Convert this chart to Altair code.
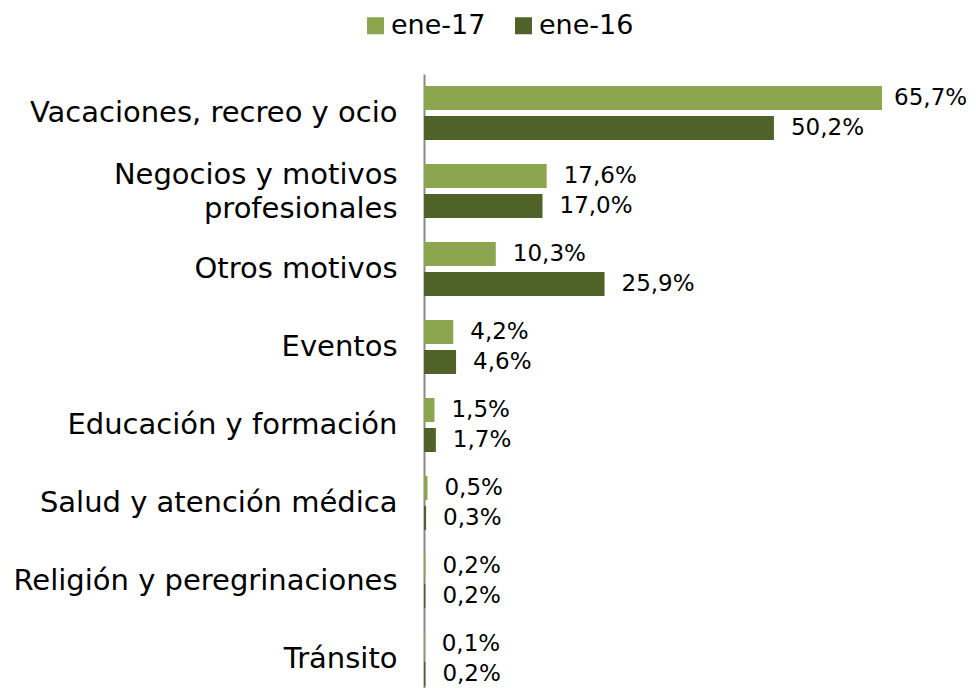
import altair as alt
import pandas as pd

categories = [
    "Vacaciones, recreo y ocio",
    "Negocios y motivos|profesionales",
    "Otros motivos",
    "Eventos",
    "Educación y formación",
    "Salud y atención médica",
    "Religión y peregrinaciones",
    "Tránsito",
]
series = ["ene-17", "ene-16"]
ene17 = [65.7, 17.6, 10.3, 4.2, 1.5, 0.5, 0.2, 0.1]
ene16 = [50.2, 17.0, 25.9, 4.6, 1.7, 0.3, 0.2, 0.2]
colors = ["#8CA650", "#4F6228"]

rows = []
for c, a, b in zip(categories, ene17, ene16):
    rows.append({"cat": c, "serie": "ene-17", "v": a})
    rows.append({"cat": c, "serie": "ene-16", "v": b})
df = pd.DataFrame(rows)

FONT = "DejaVu Sans"

base = alt.Chart(df).encode(
    y=alt.Y(
        "cat:N",
        sort=categories,
        scale=alt.Scale(range=[0, 624], paddingInner=0.3077, paddingOuter=0.1538),
        axis=alt.Axis(
            title=None,
            labelExpr="split(datum.label, '|')",
            ticks=False,
            domain=True,
            domainColor="#898989",
            domainWidth=2,
            labelFont=FONT,
            labelFontSize=29,
            labelColor="#000000",
            labelPadding=27,
            labelLineHeight=34,
            labelBaseline="middle",
            labelOffset={"condition": {"test": "indexof(datum.label, '|') >= 0", "value": -16}, "value": 0},
            labelLimit=500,
        ),
    ),
    yOffset=alt.YOffset("serie:N", sort=series, scale=alt.Scale(paddingInner=0.2, paddingOuter=0)),
)

bars = base.mark_bar().encode(
    x=alt.X("v:Q", scale=alt.Scale(domain=[0, 78.04], nice=False), axis=None),
    color=alt.Color(
        "serie:N",
        sort=series,
        scale=alt.Scale(domain=series, range=colors),
        legend=alt.Legend(
            title=None,
            orient="none",
            direction="horizontal",
            legendX=-62,
            legendY=-62,
            symbolType="square",
            symbolSize=289,
            symbolStrokeWidth=0,
            symbolOpacity=1,
            labelFont=FONT,
            labelFontSize=27,
            labelColor="#000000",
            labelOffset=2,
            columnPadding=24,
        ),
    ),
)

text = base.mark_text(
    align="left", baseline="middle", dx=17, fontSize=23, font=FONT, color="#000000"
).encode(
    x=alt.X("lx:Q"),
    text=alt.Text("lbl:N"),
).transform_calculate(
    lbl="replace(format(datum.v, '.1f'), '.', ',') + '%'",
    lx="min(datum.v, 65.0)",
)

chart = alt.layer(bars, text).properties(
    width=544,
    height=614,
    autosize=alt.AutoSizeParams(type="none"),
    padding={"left": 416, "top": 66, "right": 0, "bottom": 0},
).configure_view(stroke=None)

chart.save("out.html", embed_options={"renderer": "svg", "actions": False})
